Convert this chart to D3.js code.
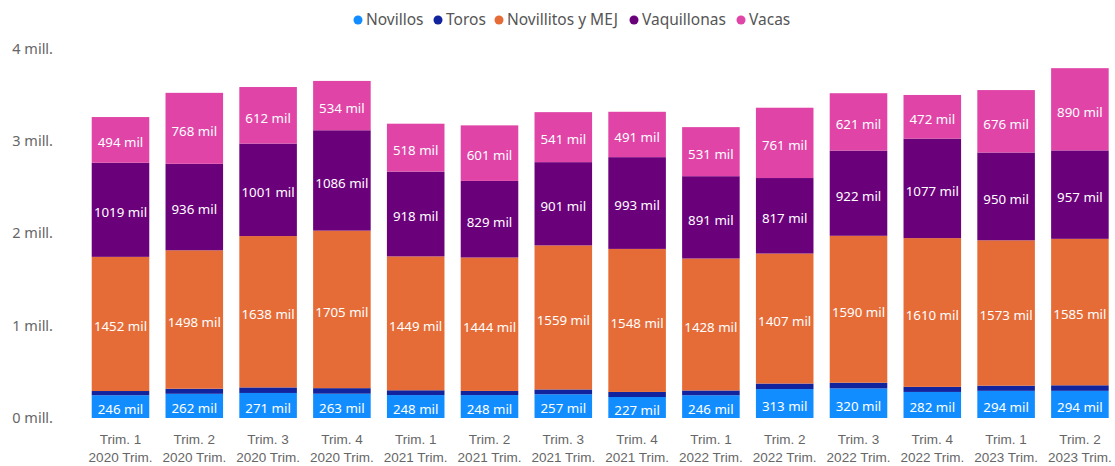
<!DOCTYPE html>
<html><head><meta charset="utf-8">
<script src="https://cdn.jsdelivr.net/npm/d3@7"></script>
<style>
html,body{margin:0;padding:0;background:#fff;}
svg{display:block;font-family:"Segoe UI","Noto Sans",sans-serif;}
</style></head>
<body><svg id="c" width="1115" height="466"></svg>
<script>
const quarters = ["Trim. 1","Trim. 2","Trim. 3","Trim. 4","Trim. 1","Trim. 2","Trim. 3","Trim. 4","Trim. 1","Trim. 2","Trim. 3","Trim. 4","Trim. 1","Trim. 2"];
const years = ["2020 Trim.","2020 Trim.","2020 Trim.","2020 Trim.","2021 Trim.","2021 Trim.","2021 Trim.","2021 Trim.","2022 Trim.","2022 Trim.","2022 Trim.","2022 Trim.","2023 Trim.","2023 Trim."];
const seriesNames = ["Novillos","Toros","Novillitos y MEJ","Vaquillonas","Vacas"];
const colors = ["#118DFF","#12239E","#E66C37","#6B007B","#E044A7"];
const novillos = [246,262,271,263,248,248,257,227,246,313,320,282,294,294];
const toros = [46,55,60,60,52,45,52,55,52,60,62,55,56,60];
const novillitos = [1452,1498,1638,1705,1449,1444,1559,1548,1428,1407,1590,1610,1573,1585];
const vaquillonas = [1019,936,1001,1086,918,829,901,993,891,817,922,1077,950,957];
const vacas = [494,768,612,534,518,601,541,491,531,761,621,472,676,890];
const yTicks = [0,1000,2000,3000,4000];
const yTickLabels = ["0 mill.","1 mill.","2 mill.","3 mill.","4 mill."];
const labeled = [true,false,true,true,true];

const seriesVals = [novillos,toros,novillitos,vaquillonas,vacas];
const rows = quarters.map((q,i)=>{
  const r = {idx:i};
  seriesNames.forEach((s,k)=>r[s]=seriesVals[k][i]);
  return r;
});
const stack = d3.stack().keys(seriesNames)(rows);

const svg = d3.select("#c");
const x = d3.scaleBand().domain(d3.range(quarters.length)).range([83.6,1116.8]).paddingInner(0.22).paddingOuter(0.11);
const y = d3.scaleLinear().domain([0,4000]).range([418,48.4]);

// y axis labels
const yAxis = d3.axisLeft(y).tickValues(yTicks).tickFormat((d,i)=>yTickLabels[i]).tickSize(0).tickPadding(0);
const gy = svg.append("g").attr("transform","translate(53,0)").call(yAxis);
gy.select(".domain").remove();
gy.selectAll("text").attr("fill","#666666").style("font-size","14.5px").style("font-family","'Segoe UI','Noto Sans',sans-serif");

// bars
stack.forEach((layer,k)=>{
  const g = svg.append("g");
  g.selectAll("rect").data(layer).join("rect")
    .attr("x",(d,i)=>x(i))
    .attr("width",x.bandwidth())
    .attr("y",d=>y(d[1]))
    .attr("height",d=>y(d[0])-y(d[1]))
    .attr("fill",colors[k]);
  if(labeled[k]){
    g.selectAll("text").data(layer).join("text")
      .attr("x",(d,i)=>x(i)+x.bandwidth()/2)
      .attr("y",d=>(y(d[0])+y(d[1]))/2)
      .attr("dy","0.55em")
      .attr("text-anchor","middle")
      .attr("fill","#ffffff")
      .style("font-size","13.3px")
      .text((d,i)=>seriesVals[k][i]+" mil");
  }
});

// x axis labels
const xAxis = d3.axisBottom(x).tickSize(0).tickPadding(0).tickFormat(()=>"");
const gx = svg.append("g").attr("transform","translate(0,418)").call(xAxis);
gx.select(".domain").remove();
gx.selectAll(".tick").each(function(d){
  const t = d3.select(this);
  t.selectAll("text").remove();
  const tx = t.append("text").attr("text-anchor","middle").attr("fill","#666666").style("font-size","13.5px");
  tx.append("tspan").attr("x",0).attr("y",26).text(quarters[d]);
  tx.append("tspan").attr("x",0).attr("y",44).text(years[d]);
});

// legend
const legendX = [358,438,499,634,741];
const lg = svg.append("g");
seriesNames.forEach((s,k)=>{
  lg.append("circle").attr("cx",legendX[k]).attr("cy",20).attr("r",4.5).attr("fill",colors[k]);
  lg.append("text").attr("x",legendX[k]+8).attr("y",20).attr("dy","0.35em").attr("fill","#555555").style("font-size","15.5px").text(s);
});
</script></body></html>
